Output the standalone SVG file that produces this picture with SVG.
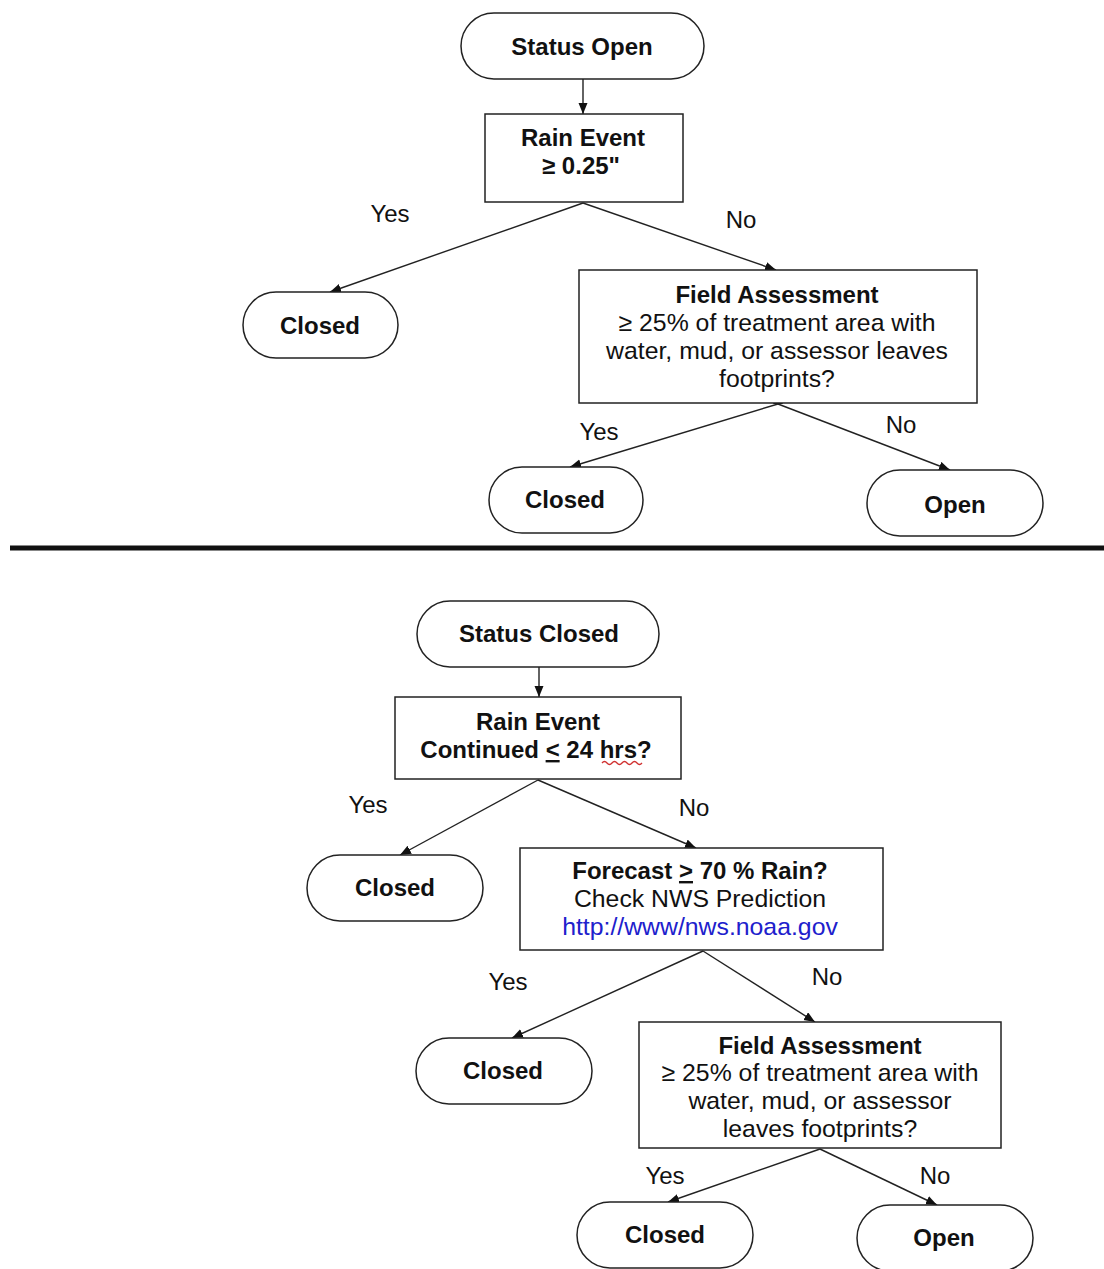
<svg xmlns="http://www.w3.org/2000/svg" width="1104" height="1269" viewBox="0 0 1104 1269">
<defs>
<style>
.node{fill:#fff;stroke:#222;stroke-width:1.5}
.t{font-family:"Liberation Sans",Arial,sans-serif;font-size:24.8px;fill:#111;text-anchor:middle}
.b{font-weight:bold;font-size:24px}
.lbl{font-family:"Liberation Sans",Arial,sans-serif;font-size:24px;fill:#111;text-anchor:middle}
.c{stroke:#222;stroke-width:1.4;fill:none;marker-end:url(#ah)}
.u{text-decoration:underline}
</style>
<marker id="ah" markerUnits="userSpaceOnUse" markerWidth="12" markerHeight="10" refX="11" refY="4.5" orient="auto">
<path d="M0,0 L11,4.5 L0,9 z" fill="#111"/>
</marker>
</defs>
<rect width="1104" height="1269" fill="#fff"/>

<g id="connectors">
<line class="c" x1="583" y1="79" x2="583" y2="114"/>
<line class="c" x1="583" y1="203" x2="330" y2="292"/>
<line class="c" x1="583" y1="203" x2="776" y2="270"/>
<line class="c" x1="778" y1="404" x2="570" y2="467"/>
<line class="c" x1="778" y1="404" x2="950" y2="470"/>
<polygon points="773,404 778,396 783,404" fill="#111"/>
<line class="c" x1="539" y1="667" x2="539" y2="697"/>
<line class="c" x1="538" y1="780" x2="400" y2="855"/>
<line class="c" x1="538" y1="780" x2="696" y2="848"/>
<line class="c" x1="703" y1="951" x2="512" y2="1038"/>
<line class="c" x1="703" y1="951" x2="815" y2="1022"/>
<line class="c" x1="820" y1="1149" x2="668" y2="1202"/>
<line class="c" x1="820" y1="1149" x2="937" y2="1205"/>
</g>

<g id="labels">
<text class="lbl" x="390" y="222">Yes</text>
<text class="lbl" x="741" y="228">No</text>
<text class="lbl" x="599" y="440">Yes</text>
<text class="lbl" x="901" y="433">No</text>
<text class="lbl" x="368" y="813">Yes</text>
<text class="lbl" x="694" y="816">No</text>
<text class="lbl" x="508" y="990">Yes</text>
<text class="lbl" x="827" y="985">No</text>
<text class="lbl" x="665" y="1184">Yes</text>
<text class="lbl" x="935" y="1184">No</text>
</g>

<g id="separator">
<line x1="10" y1="548" x2="1104" y2="548" stroke="#111" stroke-width="5"/>
</g>

<g id="status-open">
<rect class="node" x="461" y="13" width="243" height="66" rx="33"/>
<text class="t b" x="582" y="55">Status Open</text>
</g>
<g id="rain-event-1">
<rect class="node" x="485" y="114" width="198" height="88"/>
<text class="t b" x="583" y="146">Rain Event</text>
<text class="t b" x="581" y="174">≥ 0.25"</text>
</g>
<g id="closed-1">
<rect class="node" x="243" y="292" width="155" height="66" rx="33"/>
<text class="t b" x="320" y="334">Closed</text>
</g>
<g id="field-assessment-1">
<rect class="node" x="579" y="270" width="398" height="133"/>
<text class="t b" x="777" y="303">Field Assessment</text>
<text class="t" x="777" y="331">≥ 25% of treatment area with</text>
<text class="t" x="777" y="359">water, mud, or assessor leaves</text>
<text class="t" x="777" y="387">footprints?</text>
</g>
<g id="closed-2">
<rect class="node" x="489" y="467" width="154" height="66" rx="33"/>
<text class="t b" x="565" y="508">Closed</text>
</g>
<g id="open-1">
<rect class="node" x="867" y="470" width="176" height="66" rx="33"/>
<text class="t b" x="955" y="513">Open</text>
</g>

<g id="status-closed">
<rect class="node" x="417" y="601" width="242" height="66" rx="33"/>
<text class="t b" x="539" y="642">Status Closed</text>
</g>
<g id="rain-event-2">
<rect class="node" x="395" y="697" width="286" height="82"/>
<text class="t b" x="538" y="730">Rain Event</text>
<text class="t b" x="536" y="758">Continued <tspan class="u">&lt;</tspan> 24 hrs?</text>
<path d="M602,763 q2.5,-3 5,0 t5,0 t5,0 t5,0 t5,0 t5,0 t5,0 t5,0" fill="none" stroke="#d03030" stroke-width="1.3"/>
</g>
<g id="closed-3">
<rect class="node" x="307" y="855" width="176" height="66" rx="33"/>
<text class="t b" x="395" y="896">Closed</text>
</g>
<g id="forecast">
<rect class="node" x="520" y="848" width="363" height="102"/>
<text class="t b" x="700" y="879">Forecast <tspan class="u">&gt;</tspan> 70 % Rain?</text>
<text class="t" x="700" y="907">Check NWS Prediction</text>
<text class="t" x="700" y="935" style="fill:#2020cc">http://www/nws.noaa.gov</text>
</g>
<g id="closed-4">
<rect class="node" x="416" y="1038" width="176" height="66" rx="33"/>
<text class="t b" x="503" y="1079">Closed</text>
</g>
<g id="field-assessment-2">
<rect class="node" x="639" y="1022" width="362" height="126"/>
<text class="t b" x="820" y="1054">Field Assessment</text>
<text class="t" x="820" y="1081">≥ 25% of treatment area with</text>
<text class="t" x="820" y="1109">water, mud, or assessor</text>
<text class="t" x="820" y="1137">leaves footprints?</text>
</g>
<g id="closed-5">
<rect class="node" x="577" y="1202" width="176" height="66" rx="33"/>
<text class="t b" x="665" y="1243">Closed</text>
</g>
<g id="open-2">
<rect class="node" x="857" y="1205" width="176" height="66" rx="33"/>
<text class="t b" x="944" y="1246">Open</text>
</g>
</svg>
